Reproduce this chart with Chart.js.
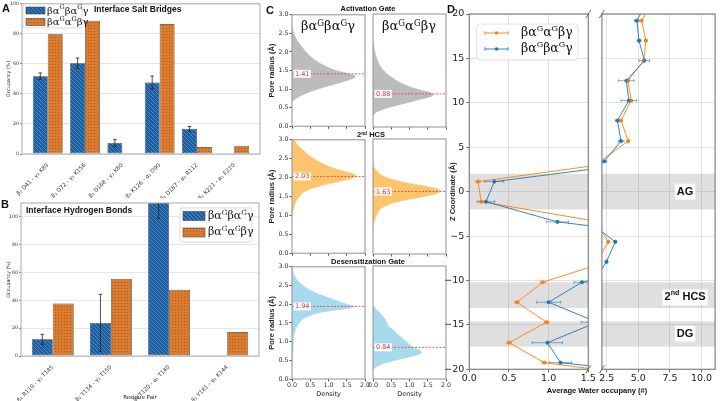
<!DOCTYPE html>
<html><head><meta charset="utf-8">
<script src="https://cdn.jsdelivr.net/npm/chart.js@4.4.1/dist/chart.umd.min.js"></script>
<style>
body{margin:0;background:#fff;}
#root{position:relative;width:720px;height:401px;overflow:hidden;background:#fff;}
canvas{position:absolute;}
.t{position:absolute;white-space:nowrap;color:#111;line-height:1;font-family:'Liberation Sans',Arial,sans-serif;font-weight:bold;transform:translate(-50%,-50%);}
.l{transform:none;}
.g{font-family:'DejaVu Serif','Liberation Serif',serif;font-weight:normal;}
sup{font-size:65%;vertical-align:0;position:relative;top:-0.45em;}
</style></head><body><div id="root">
<canvas id="cA" style="left:0px;top:0px" width="263" height="198"></canvas>
<canvas id="cB" style="left:0px;top:197px" width="262" height="204"></canvas>
<canvas id="c11" style="left:262px;top:10px" width="112" height="121"></canvas>
<canvas id="c12" style="left:366px;top:10px" width="90" height="121"></canvas>
<canvas id="c21" style="left:262px;top:135px" width="112" height="123"></canvas>
<canvas id="c22" style="left:366px;top:135px" width="90" height="123"></canvas>
<canvas id="c31" style="left:262px;top:262px" width="112" height="139"></canvas>
<canvas id="c32" style="left:366px;top:262px" width="90" height="139"></canvas>
<canvas id="cD1" style="left:440px;top:0px" width="157" height="401"></canvas>
<canvas id="cD2" style="left:597px;top:0px" width="123" height="401"></canvas>

<div class="t" style="left:6px;top:8px;font-size:11px">A</div>
<div class="t" style="left:5px;top:204px;font-size:11px">B</div>
<div class="t" style="left:270px;top:10px;font-size:11px">C</div>
<div class="t" style="left:451px;top:9px;font-size:11px">D</div>
<div class="t l" style="left:94px;top:5px;font-size:8.5px">Interface Salt Bridges</div>
<div class="t l" style="left:26px;top:206px;font-size:8.5px">Interface Hydrogen Bonds</div>
<div class="t" style="left:368px;top:9px;font-size:7.5px">Activation Gate</div>
<div class="t" style="left:371px;top:135px;font-size:7.5px">2<sup>nd</sup> HCS</div>
<div class="t" style="left:368px;top:262px;font-size:7.5px">Desensitization Gate</div>
<div class="t g" style="left:328px;top:25px;font-size:13px">βα<sup>G</sup>βα<sup>G</sup>γ</div>
<div class="t g" style="left:409px;top:25px;font-size:13px">βα<sup>G</sup>α<sup>G</sup>βγ</div>
<div class="t" style="left:597px;top:391px;font-size:7.5px">Average Water occupany (#)</div>
</div>
<script>
// ---------------- DATA ----------------
const saltCategories = ['β₂ D41 - γ₂ K80','β₂ D72 - γ₂ K156','β₂ D168 - γ₂ K80','β₂ K126 - α₁ D90','β₂ D187 - α₁ R112','β₂ K221 - α₁ E210'];
const saltBaBaG    = [51.8, 60.5, 7.4, 47.6, 16.8, 0];
const saltBaBaGErr = [2.2, 3.4, 2.2, 4.3, 1.5, 0];
const saltBaaB     = [79.8, 88.8, 0, 86.6, 4.6, 5.5];

const hbCategories = ['β₂ R110 - γ₂ T145','β₂ T134 - γ₂ T150','β₂ T120 - α₁ T140','β₂ Y181 - α₁ K144'];
const hbBaBaG    = [12.0, 23.8, 115, 0];
const hbBaBaGErr = [3.6, 20.5, 16, 0];
const hbBaaB     = [37.7, 55.5, 47.6, 17.3];

// Pore radius density profiles (radius, density)
const agR1 = [0.65,0.7,0.8,0.9,1.0,1.1,1.2,1.3,1.35,1.4,1.5,1.6,1.7,1.8,1.9,2.0,2.1,2.2,2.3,2.4,2.5,2.6,2.7];
const agD1 = [0,0.05,0.2,0.42,0.72,1.05,1.4,1.7,1.73,1.6,1.2,0.95,0.75,0.6,0.48,0.38,0.3,0.22,0.15,0.09,0.05,0.02,0];
const agR2 = [0.3,0.4,0.5,0.6,0.7,0.8,0.85,0.9,1.0,1.1,1.2,1.3,1.4,1.5,1.6,1.7,1.8,1.9,2.0,2.1,2.2,2.3];
const agD2 = [0,0.1,0.36,0.75,1.15,1.55,1.65,1.6,1.22,0.92,0.7,0.54,0.4,0.29,0.21,0.15,0.11,0.08,0.05,0.03,0.015,0];
const hcsR1 = [1.0,1.1,1.2,1.3,1.4,1.5,1.6,1.7,1.8,1.9,2.0,2.05,2.1,2.2,2.3,2.4,2.5,2.6,2.7,2.8,2.9,3.0];
const hcsD1 = [0,0.02,0.05,0.08,0.13,0.2,0.3,0.5,0.85,1.3,1.7,1.75,1.65,1.3,1.0,0.78,0.6,0.45,0.33,0.22,0.12,0.05];
const hcsR2 = [0.75,0.8,0.9,1.0,1.1,1.2,1.3,1.4,1.5,1.6,1.65,1.7,1.8,1.9,2.0,2.1,2.2,2.3,2.4];
const hcsD2 = [0,0.02,0.05,0.09,0.14,0.24,0.45,0.85,1.4,1.8,1.85,1.75,1.25,0.7,0.35,0.17,0.07,0.02,0];
const dgR1 = [0.45,0.6,0.8,1.0,1.2,1.3,1.4,1.5,1.6,1.7,1.8,1.85,1.9,1.95,2.0,2.1,2.2,2.3,2.4,2.5,2.6,2.7,2.8,2.9,3.0];
const dgD1 = [0,0.01,0.03,0.04,0.06,0.09,0.13,0.2,0.3,0.5,0.9,1.25,1.6,1.68,1.5,1.2,0.92,0.65,0.45,0.3,0.18,0.1,0.05,0.02,0.01];
const dgR2 = [0.22,0.3,0.4,0.5,0.6,0.7,0.75,0.8,0.9,1.0,1.1,1.2,1.3,1.4,1.5,1.6,1.7,1.8,1.9,1.95];
const dgD2 = [0,0.05,0.25,0.62,1.05,1.33,1.3,1.18,1.02,0.9,0.78,0.66,0.55,0.43,0.38,0.32,0.24,0.14,0.05,0];
const agMedian = [1.41, 0.88];
const hcsMedian = [2.03, 1.63];
const dgMedian = [1.94, 0.84];

// Water occupancy along Z
const zCoord = [21.5,19.25,17.0,14.75,12.5,10.25,8.0,5.7,3.4,1.13,-1.13,-3.4,-5.65,-7.9,-10.2,-12.45,-14.7,-17.0,-19.25,-21.5];
const waterBaaB    = [6.16,5.26,5.6,5.43,4.18,4.43,3.63,4.2,1.95,0.11,0.15,1.64,2.63,1.73,0.925,0.6,0.975,0.5,0.945,2.87];
const waterBaaBErr = [0.1,0.1,0.1,0.1,0.1,0.1,0.1,0.1,0.08,0.03,0.03,0.05,0.08,0.05,0.03,0.03,0.03,0.03,0.03,0.1];
const waterBaBa    = [5.78,4.88,5.06,5.48,4.05,4.25,3.35,3.63,2.3,0.315,0.21,1.11,3.18,2.48,1.42,1.0,1.61,0.985,1.15,3.4];
const waterBaBaErr = [0.2,0.19,0.15,0.41,0.62,0.62,0.16,0.23,0.2,0.12,0.11,0.14,0.08,0.08,0.1,0.15,0.2,0.19,0.14,0.2];
const bandTop    = [2.0, -10.2, -14.6];
const bandBottom = [-2.0, -13.1, -17.45];
const bandLabels = ['AG', '2^{nd} HCS', 'DG'];
const bandLabelZ = [0, -11.9, -16.0];
const bandLabelX = 8.7;

// ---------------- SETUP ----------------
Chart.defaults.font.family = "'DejaVu Sans', sans-serif";
Chart.defaults.color = '#222';
Chart.defaults.animation = false;
Chart.defaults.responsive = false;
Chart.defaults.devicePixelRatio = 1;
Chart.defaults.plugins.legend.display = false;
Chart.defaults.plugins.tooltip.enabled = false;

const SERIF = "'DejaVu Serif','Liberation Serif',serif";
function drawRich(ctx, s, x, y, size, fam, weight, align) {
  const parts = []; let i = 0;
  while (i < s.length) {
    if (s[i] === '^') {
      let t;
      if (s[i+1] === '{') { const j = s.indexOf('}', i); t = s.slice(i+2, j); i = j+1; }
      else { t = s[i+1]; i += 2; }
      parts.push([t, true]);
    } else { let j = i; while (j < s.length && s[j] !== '^') j++; parts.push([s.slice(i, j), false]); i = j; }
  }
  const f = sup => `${weight||'normal'} ${sup ? size*0.65 : size}px ${fam}`;
  let w = 0; parts.forEach(p => { ctx.font = f(p[1]); w += ctx.measureText(p[0]).width; });
  let cx = align === 'center' ? x - w/2 : x;
  ctx.textBaseline = 'middle'; ctx.textAlign = 'left';
  parts.forEach(p => { ctx.font = f(p[1]); ctx.fillText(p[0], cx, p[1] ? y - size*0.35 : y); cx += ctx.measureText(p[0]).width; });
  return w;
}
function makePattern(kind) {
  const p = document.createElement('canvas');
  const g = p.getContext('2d');
  if (kind === 'blue') {
    p.width = p.height = 4;
    g.fillStyle = '#1f5e9c'; g.fillRect(0,0,4,4);
    g.strokeStyle = '#4a8fcf'; g.lineWidth = 0.9;
    g.beginPath(); g.moveTo(0,0); g.lineTo(4,4); g.moveTo(-2,2); g.lineTo(2,6); g.moveTo(2,-2); g.lineTo(6,2); g.stroke();
  } else {
    p.width = p.height = 3;
    g.fillStyle = '#da7b2f'; g.fillRect(0,0,3,3);
    g.fillStyle = '#b05a18'; g.fillRect(1,1,1,1);
  }
  return g.createPattern(p, 'repeat');
}
const blueHatch = makePattern('blue');
const orangeDots = makePattern('orange');

const frame = (color, lw) => ({ id:'frame', afterDraw(c) {
  const a = c.chartArea, ctx = c.ctx; ctx.save(); ctx.strokeStyle = color; ctx.lineWidth = lw;
  ctx.strokeRect(a.left, a.top, a.right - a.left, a.bottom - a.top); ctx.restore(); } });

const barErr = { id:'barErr', afterDatasetsDraw(c) {
  const ctx = c.ctx, ys = c.scales.y, a = c.chartArea;
  ctx.save(); ctx.beginPath(); ctx.rect(a.left, a.top, a.right-a.left, a.bottom-a.top); ctx.clip();
  ctx.strokeStyle = '#222'; ctx.lineWidth = 0.8;
  c.data.datasets.forEach((ds, di) => {
    if (!ds.errs) return;
    c.getDatasetMeta(di).data.forEach((el, i) => {
      const e = ds.errs[i]; if (!e) return;
      const v = ds.data[i].y, y1 = ys.getPixelForValue(v - e), y2 = ys.getPixelForValue(v + e);
      ctx.beginPath(); ctx.moveTo(el.x, y1); ctx.lineTo(el.x, y2);
      ctx.moveTo(el.x-1.8, y1); ctx.lineTo(el.x+1.8, y1); ctx.moveTo(el.x-1.8, y2); ctx.lineTo(el.x+1.8, y2); ctx.stroke();
    });
  });
  ctx.restore(); } };

function barLegend(box, rows, size) {
  return { id:'barLegend', afterDraw(c) {
    const ctx = c.ctx; ctx.save();
    ctx.fillStyle = 'rgba(255,255,255,0.85)'; ctx.strokeStyle = '#d0d0d0'; ctx.lineWidth = 0.8;
    ctx.beginPath(); ctx.roundRect(box[0], box[1], box[2], box[3], 2); ctx.fill(); ctx.stroke();
    rows.forEach(r => {
      const ds = c.data.datasets[r.ds];
      ctx.fillStyle = ds.backgroundColor; ctx.fillRect(r.px, r.py, r.pw, r.ph);
      ctx.strokeStyle = '#444'; ctx.lineWidth = 0.6; ctx.strokeRect(r.px, r.py, r.pw, r.ph);
      ctx.fillStyle = '#111'; drawRich(ctx, r.text, r.tx, r.ty, size, SERIF);
    });
    ctx.restore(); } };
}

function barChart(id, cats, v1, e1, v2, opt) {
  return new Chart(document.getElementById(id), {
    type: 'bar',
    data: { datasets: [
      { data: v1.map((v,i)=>({x:i, y:v})), errs: e1, backgroundColor: blueHatch, borderColor: '#3a3a3a', borderWidth: 0.7, borderSkipped: false },
      { data: v2.map((v,i)=>({x:i, y:v})), backgroundColor: orangeDots, borderColor: '#3a3a3a', borderWidth: 0.7, borderSkipped: false }
    ]},
    options: {
      categoryPercentage: opt.catPct, barPercentage: 1,
      layout: { padding: opt.padding },
      scales: {
        x: { type: 'linear', min: opt.xmin, max: opt.xmax, offset: false,
             grid: { display: false }, border: { display: false },
             afterBuildTicks: s => { s.ticks = cats.map((c,i)=>({value:i})); },
             afterFit: s => { s.height = opt.xh; },
             title: opt.xtitle ? { display: true, text: opt.xtitle, font: { size: 5.5 }, padding: { top: 0, bottom: 0 } } : { display: false },
             ticks: { autoSkip: false, maxRotation: 45, minRotation: 45, font: { size: 5.6 }, padding: 0, color: '#333', callback: v => cats[v] } },
        y: { min: 0, max: opt.ymax, border: { display: false },
             ticks: { stepSize: 20, font: { size: 4.8 }, padding: 1, color: '#333' },
             grid: { color: '#e6e6e6', tickLength: 2, tickColor: '#888' },
             afterBuildTicks: s => { s.ticks = s.ticks.filter(t => t.value <= 100); },
             title: { display: true, text: 'Occupancy (%)', font: { size: 4.8 }, padding: { top: opt.ytp, bottom: 0 } },
             afterFit: s => { s.width = opt.yw; } }
      }
    },
    plugins: [barErr, frame('#aaa', 1), barLegend(opt.lbox, opt.lrows, opt.lsize)]
  });
}

barChart('cA', saltCategories, saltBaBaG, saltBaBaGErr, saltBaaB, {
  catPct: 0.8, padding: { top: 2, right: 3, left: 0, bottom: 0 }, xmin: -0.69, xmax: 5.69, xh: 44, ymax: 100, yw: 22, ytp: 6,
  lbox: [23, 4, 59, 24], lsize: 10,
  lrows: [ { ds:0, px:26, py:7, pw:19, ph:7, text:'βα^Gβα^Gγ', tx:47, ty:11 },
           { ds:1, px:26, py:18.5, pw:19, ph:7, text:'βα^Gα^Gβγ', tx:47, ty:22.5 } ]
});
barChart('cB', hbCategories, hbBaBaG, hbBaBaGErr, hbBaaB, {
  catPct: 0.72, padding: { top: 6, right: 3, left: 0, bottom: 0 }, xmin: -0.546, xmax: 3.546, xh: 45, ymax: 110, yw: 21, ytp: 6,
  xtitle: 'Residue Pair',
  lbox: [180, 11, 72, 34], lsize: 11,
  lrows: [ { ds:0, px:183, py:14.5, pw:22, ph:9, text:'βα^Gβα^Gγ', tx:208, ty:19.5 },
           { ds:1, px:183, py:31, pw:22, ph:9, text:'βα^Gα^Gβγ', tx:208, ty:35.5 } ]
});

// ---------------- PANEL C ----------------
function poreChart(id, r, d, med, color, leftCol, bottomRow, pad, xh) {
  const medLabel = { id:'medLabel', afterDatasetsDraw(c) {
    const ctx = c.ctx, a = c.chartArea, y = c.scales.y.getPixelForValue(med);
    ctx.save(); ctx.font = "6.5px 'DejaVu Sans'"; const t = med.toFixed(2); const w = ctx.measureText(t).width;
    ctx.fillStyle = 'rgba(255,255,255,0.9)'; ctx.fillRect(a.left + 1.5, y - 4, w + 3, 8);
    ctx.fillStyle = '#e03a3e'; ctx.textBaseline = 'middle'; ctx.fillText(t, a.left + 3, y + 0.3);
    ctx.restore(); } };
  return new Chart(document.getElementById(id), {
    type: 'line',
    data: { datasets: [
      { data: r.map((v,i)=>({x:d[i], y:v})), fill: 'origin', backgroundColor: color, borderColor: color, borderWidth: 0.6,
        pointRadius: 0, cubicInterpolationMode: 'monotone', order: 2 },
      { data: [{x:0, y:med}, {x:2, y:med}], borderColor: '#e8383d', borderWidth: 0.8, borderDash: [2, 1.5], pointRadius: 0, fill: false, order: 1 }
    ]},
    options: {
      indexAxis: 'y',
      layout: { padding: pad },
      scales: {
        x: { type: 'linear', min: 0, max: 2, border: { display: false },
             grid: { drawOnChartArea: false, tickLength: 2.5, tickColor: '#555' },
             ticks: { stepSize: 0.5, display: bottomRow, font: { size: 6.3 }, padding: 0, color: '#333', callback: v => v.toFixed(1) },
             title: { display: bottomRow, text: 'Density', font: { size: 6.5 }, padding: { top: 0, bottom: 3 } },
             afterFit: s => { s.height = xh; } },
        y: { type: 'linear', min: 0, max: 3, border: { display: false },
             grid: { drawOnChartArea: false, tickLength: leftCol ? 2.5 : 0, tickColor: '#555' },
             ticks: { stepSize: 0.5, display: leftCol, font: { size: 6.3 }, padding: 1, color: '#333', callback: v => v.toFixed(1) },
             title: { display: leftCol, text: 'Pore radius (Å)', font: { size: 7.5, weight: 'bold', family: "'Liberation Sans', Arial, sans-serif" }, padding: { top: 5, bottom: 0 } },
             afterFit: s => { s.width = leftCol ? 30 : 7; } }
      }
    },
    plugins: [medLabel, frame('#999', 1.1)]
  });
}
const GRAY = 'rgb(188,188,188)', ORANGE = 'rgb(252,196,108)', LBLUE = 'rgb(168,218,238)';
poreChart('c11', agR1, agD1, agMedian[0], GRAY, true, false, { top: 4, right: 9, left: 0, bottom: 0 }, 4);
poreChart('c12', agR2, agD2, agMedian[1], GRAY, false, false, { top: 4, right: 10, left: 0, bottom: 0 }, 4);
poreChart('c21', hcsR1, hcsD1, hcsMedian[0], ORANGE, true, false, { top: 4, right: 9, left: 0, bottom: 0 }, 4);
poreChart('c22', hcsR2, hcsD2, hcsMedian[1], ORANGE, false, false, { top: 4, right: 10, left: 0, bottom: 0 }, 4);
poreChart('c31', dgR1, dgD1, dgMedian[0], LBLUE, true, true, { top: 4, right: 9, left: 0, bottom: 0 }, 22);
poreChart('c32', dgR2, dgD2, dgMedian[1], LBLUE, false, true, { top: 4, right: 10, left: 0, bottom: 0 }, 22);

// ---------------- PANEL D ----------------
const ORG = '#ff7f0e', BLU = '#1f77b4';
const hErr = { id:'hErr', afterDatasetsDraw(c) {
  const xs = c.scales.x, ctx = c.ctx, a = c.chartArea;
  ctx.save(); ctx.beginPath(); ctx.rect(a.left, a.top, a.right-a.left, a.bottom-a.top); ctx.clip();
  c.data.datasets.forEach((ds, di) => {
    ctx.strokeStyle = ds.borderColor; ctx.globalAlpha = 0.7; ctx.lineWidth = 0.8;
    c.getDatasetMeta(di).data.forEach((el, i) => {
      const e = ds.errs[i], v = ds.data[i].x;
      const x1 = xs.getPixelForValue(v - e), x2 = xs.getPixelForValue(v + e);
      ctx.beginPath(); ctx.moveTo(x1, el.y); ctx.lineTo(x2, el.y);
      ctx.moveTo(x1, el.y-1.5); ctx.lineTo(x1, el.y+1.5); ctx.moveTo(x2, el.y-1.5); ctx.lineTo(x2, el.y+1.5); ctx.stroke();
    });
  });
  ctx.restore(); } };
const bands = { id:'bands', beforeDatasetsDraw(c) {
  const ys = c.scales.y, a = c.chartArea, ctx = c.ctx; ctx.save(); ctx.fillStyle = 'rgba(128,128,128,0.25)';
  bandTop.forEach((t, i) => { const y1 = ys.getPixelForValue(t), y2 = ys.getPixelForValue(bandBottom[i]); ctx.fillRect(a.left, y1, a.right-a.left, y2-y1); });
  ctx.restore(); } };
const bandText = { id:'bandText', afterDatasetsDraw(c) {
  const ctx = c.ctx, xs = c.scales.x, ys = c.scales.y; ctx.save();
  bandLabels.forEach((t, i) => {
    const x = xs.getPixelForValue(bandLabelX), y = ys.getPixelForValue(bandLabelZ[i]);
    ctx.globalAlpha = 0; const w = drawRich(ctx, t, x, y, 11, "'Liberation Sans', Arial, sans-serif", 'bold', 'center'); ctx.globalAlpha = 1;
    ctx.fillStyle = 'rgba(255,255,255,0.9)'; ctx.fillRect(x - w/2 - 2, y - 8, w + 4, 16);
    ctx.fillStyle = '#111'; drawRich(ctx, t, x, y, 11, "'Liberation Sans', Arial, sans-serif", 'bold', 'center');
  });
  ctx.restore(); } };
function breaks(side) { return { id:'breaks', afterDraw(c) {
  const a = c.chartArea, ctx = c.ctx, x = side === 'right' ? a.right : a.left;
  ctx.save(); ctx.strokeStyle = '#666'; ctx.lineWidth = 1;
  [a.top, a.bottom].forEach(y => { ctx.beginPath(); ctx.moveTo(x - 2.5, y + 4); ctx.lineTo(x + 2.5, y - 4); ctx.stroke(); });
  ctx.restore(); } }; }
const waterLegend = { id:'waterLegend', afterDraw(c) {
  const ctx = c.ctx; ctx.save();
  ctx.fillStyle = 'rgba(255,255,255,0.85)'; ctx.strokeStyle = '#d5d5d5'; ctx.lineWidth = 0.8;
  ctx.beginPath(); ctx.roundRect(36.7, 24, 101.3, 36, 3); ctx.fill(); ctx.stroke();
  [[1, 33, 'βα^Gα^Gβγ'], [0, 49, 'βα^Gβα^Gγ']].forEach(([di, y, txt]) => {
    const col = c.data.datasets[di].borderColor;
    ctx.strokeStyle = col; ctx.fillStyle = col; ctx.lineWidth = 0.9;
    ctx.beginPath(); ctx.moveTo(45, y); ctx.lineTo(68, y); ctx.moveTo(45, y-1.8); ctx.lineTo(45, y+1.8); ctx.moveTo(68, y-1.8); ctx.lineTo(68, y+1.8); ctx.stroke();
    ctx.beginPath(); ctx.arc(56.5, y, 1.8, 0, Math.PI*2); ctx.fill();
    ctx.fillStyle = '#111'; drawRich(ctx, txt, 81, y, 12.5, SERIF);
  });
  ctx.restore(); } };

function waterChart(id, left) {
  const ds = (vals, errs, col) => ({ data: zCoord.map((z,i)=>({x:vals[i], y:z})), errs, borderColor: col, backgroundColor: col,
    showLine: true, borderWidth: 0.9, pointRadius: 1.6, pointStyle: 'circle', clip: 0 });
  const xt = left ? [0, 0.5, 1.0, 1.5] : [2.5, 5.0, 7.5, 10.0];
  return new Chart(document.getElementById(id), {
    type: 'scatter',
    data: { datasets: [ ds(waterBaBa, waterBaBaErr, BLU), ds(waterBaaB, waterBaaBErr, ORG) ] },
    options: {
      layout: { padding: left ? { top: 14, right: 8.7, left: 0, bottom: 0 } : { top: 14, right: 0, left: 0, bottom: 0 } },
      scales: {
        x: { type: 'linear', min: left ? 0 : 2.12, max: left ? 1.5 : 11.07, border: { display: false },
             grid: { color: '#e2e2e2', tickLength: 3, tickColor: '#666' },
             afterBuildTicks: s => { s.ticks = xt.map(v => ({ value: v })); },
             ticks: { font: { size: 9.5 }, padding: 1, color: '#222', autoSkip: false, callback: v => v.toFixed(1) },
             afterFit: s => { s.height = 31.7; } },
        y: { type: 'linear', min: -20, max: 20, border: { display: false },
             grid: { color: '#e2e2e2', tickLength: left ? 3 : 0, tickColor: '#666' },
             ticks: { stepSize: 5, display: left, font: { size: 9.5 }, padding: 2, color: '#222', callback: v => (v < 0 ? '−' : '') + Math.abs(v) },
             title: { display: left, text: 'Z Coordinate (Å)', font: { size: 7.5, weight: 'bold', family: "'Liberation Sans', Arial, sans-serif" }, padding: { top: 8, bottom: 0 } },
             afterFit: s => { s.width = left ? 29.3 : 4; } }
      }
    },
    plugins: left ? [bands, hErr, frame('#8a8a8a', 1.3), breaks('right'), waterLegend]
                  : [bands, hErr, bandText, frame('#8a8a8a', 1.3), breaks('left')]
  });
}
waterChart('cD1', true);
waterChart('cD2', false);
</script>
</body></html>
